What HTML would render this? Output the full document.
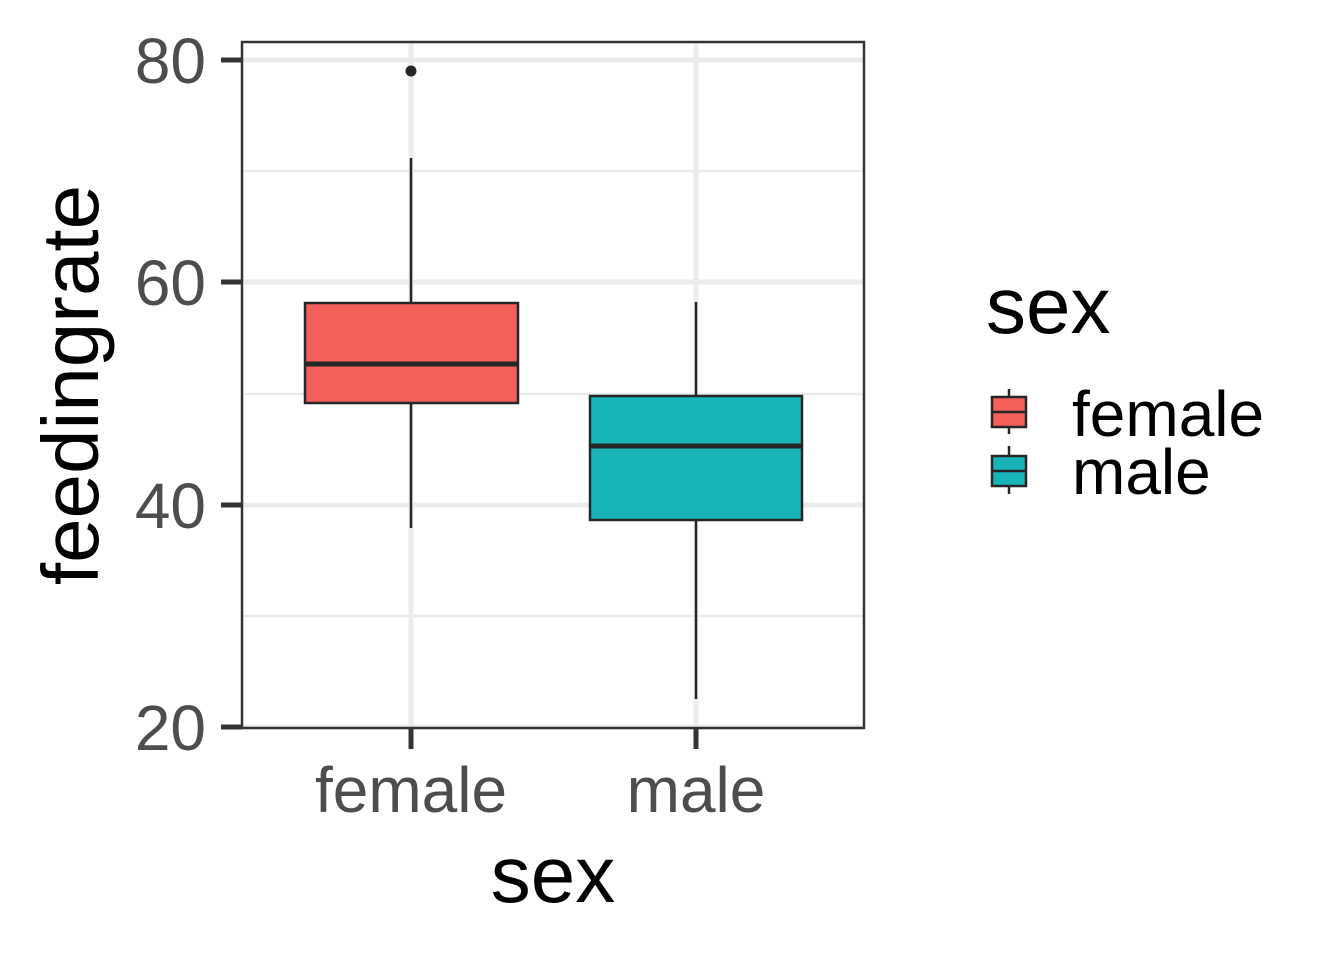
<!DOCTYPE html>
<html><head><meta charset="utf-8"><style>
html,body{margin:0;padding:0;background:#fff;}
svg{display:block;}
text{font-family:"Liberation Sans",Arial,sans-serif;}
</style></head><body>
<svg width="1344" height="960" viewBox="0 0 1344 960" xmlns="http://www.w3.org/2000/svg">
<rect width="1344" height="960" fill="#fff"/>
<g stroke="#ebebeb">
<line x1="242" x2="864" y1="171" y2="171" stroke-width="2.5"/>
<line x1="242" x2="864" y1="394" y2="394" stroke-width="2.5"/>
<line x1="242" x2="864" y1="616" y2="616" stroke-width="2.5"/>
<line x1="242" x2="864" y1="60" y2="60" stroke-width="5"/>
<line x1="242" x2="864" y1="282" y2="282" stroke-width="5"/>
<line x1="242" x2="864" y1="505" y2="505" stroke-width="5"/>
<line x1="242" x2="864" y1="727" y2="727" stroke-width="5"/>
<line x1="411" x2="411" y1="42" y2="728" stroke-width="5"/>
<line x1="696" x2="696" y1="42" y2="728" stroke-width="5"/>
</g>
<g stroke="#262626" stroke-width="2.5">
<line x1="411" x2="411" y1="158" y2="303"/>
<line x1="411" x2="411" y1="403" y2="528"/>
<rect x="305" y="303" width="213" height="100" fill="#f45f5a"/>
<line x1="305" x2="518" y1="364" y2="364" stroke-width="5"/>
</g>
<circle cx="411" cy="71" r="5.5" fill="#262626"/>
<g stroke="#262626" stroke-width="2.5">
<line x1="696" x2="696" y1="302" y2="396"/>
<line x1="696" x2="696" y1="520" y2="699"/>
<rect x="590" y="396" width="212" height="124" fill="#19b4b8"/>
<line x1="590" x2="802" y1="446" y2="446" stroke-width="5"/>
</g>
<rect x="242" y="42" width="622" height="686" fill="none" stroke="#333" stroke-width="2.5"/>
<g stroke="#333" stroke-width="5">
<line x1="221" x2="242" y1="60" y2="60"/>
<line x1="221" x2="242" y1="282" y2="282"/>
<line x1="221" x2="242" y1="505" y2="505"/>
<line x1="221" x2="242" y1="727" y2="727"/>
<line x1="411" x2="411" y1="728" y2="749"/>
<line x1="696" x2="696" y1="728" y2="749"/>
</g>
<g fill="#4d4d4d" font-size="64" text-anchor="end">
<text x="206" y="83">80</text>
<text x="206" y="305">60</text>
<text x="206" y="528">40</text>
<text x="206" y="750">20</text>
</g>
<g fill="#4d4d4d" font-size="64" text-anchor="middle">
<text x="411" y="812">female</text>
<text x="696" y="812">male</text>
</g>
<text x="553" y="902" font-size="80" text-anchor="middle" fill="#000">sex</text>
<text transform="translate(98,385) rotate(-90)" font-size="80" text-anchor="middle" fill="#000">feedingrate</text>
<text x="986" y="333" font-size="80" fill="#000">sex</text>
<g stroke="#262626" stroke-width="2.5">
<line x1="1009" x2="1009" y1="389" y2="434"/>
<rect x="992" y="397" width="34" height="30" fill="#f45f5a"/>
<line x1="992" x2="1026" y1="412" y2="412"/>
<line x1="1009" x2="1009" y1="446" y2="494"/>
<rect x="992" y="456" width="34" height="30" fill="#19b4b8"/>
<line x1="992" x2="1026" y1="471" y2="471"/>
</g>
<g font-size="64" fill="#000">
<text x="1072" y="436">female</text>
<text x="1072" y="494">male</text>
</g>
</svg>
</body></html>
